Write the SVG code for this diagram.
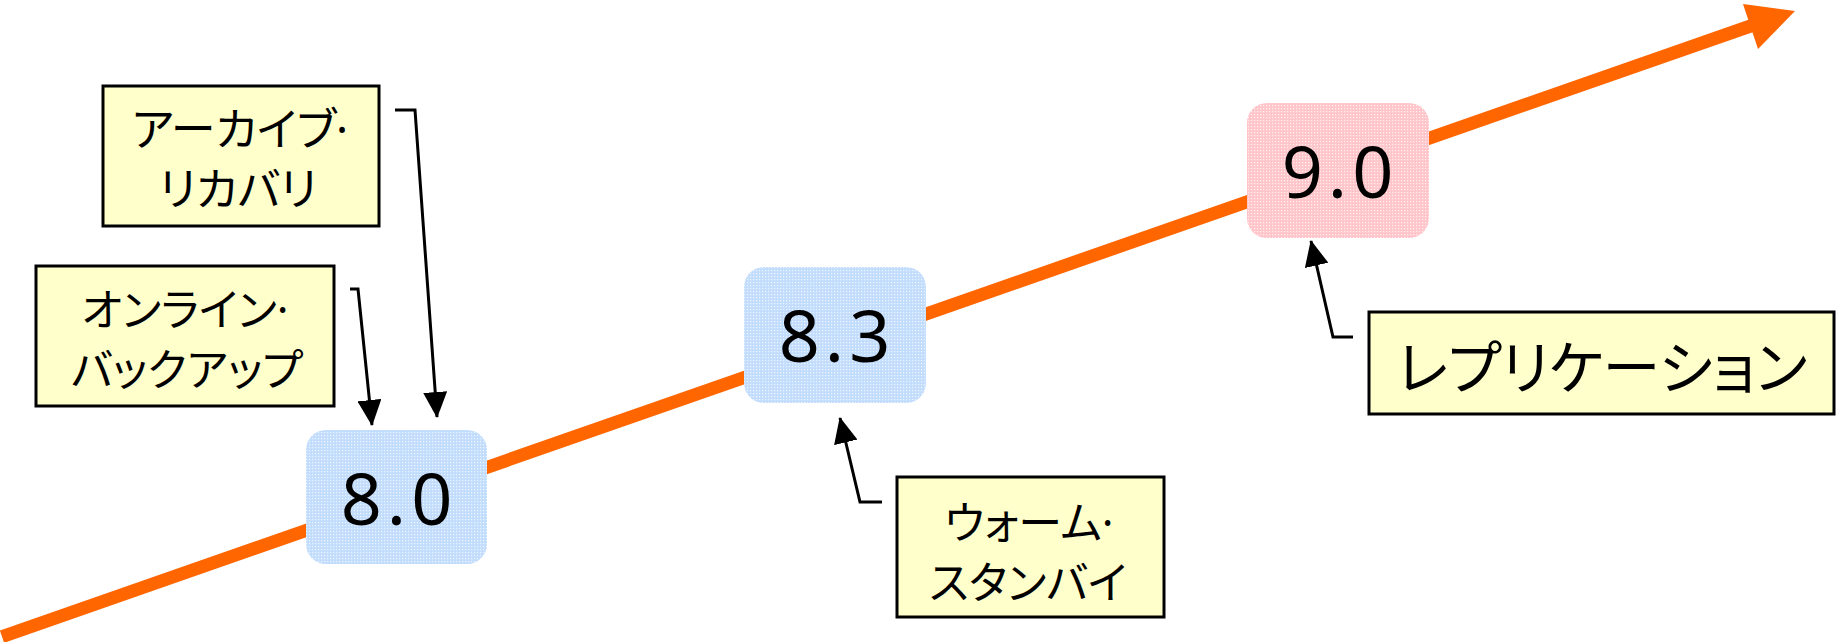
<svg xmlns="http://www.w3.org/2000/svg" width="1836" height="642" viewBox="0 0 1836 642">
  <style>
    .note { fill: #FFFFCC; stroke: #000; stroke-width: 3; }
    .jp { font-family: "Noto Sans CJK JP", "Noto Sans", sans-serif; font-feature-settings: "palt" 1; fill: #000; text-anchor: middle; }
    .dot { font-family: "Noto Sans", "DejaVu Sans", sans-serif; }
    .ver { font-family: "Noto Sans", "DejaVu Sans", sans-serif; font-size: 72px; letter-spacing: 5px; fill: #000; text-anchor: middle; }
    .conn { fill: none; stroke: #000; stroke-width: 3; }
  </style>
  <defs>
    <pattern id="blue" width="3" height="3" patternUnits="userSpaceOnUse">
      <rect width="3" height="3" fill="#C6DFFD"/>
      <rect width="1" height="1" fill="#EEF5FF"/>
      <rect x="2" y="2" width="1" height="1" fill="#B9D7FC"/>
    </pattern>
    <pattern id="pink" width="3" height="3" patternUnits="userSpaceOnUse">
      <rect width="3" height="3" fill="#FFC9CD"/>
      <rect width="1" height="1" fill="#FFF0F1"/>
      <rect x="2" y="2" width="1" height="1" fill="#FDBCC2"/>
    </pattern>
    <marker id="arr" viewBox="0 0 26 24" refX="25" refY="12" markerWidth="26" markerHeight="24" markerUnits="userSpaceOnUse" orient="auto">
      <path d="M0,0 L26,12 L0,24 z" fill="#000"/>
    </marker>
  </defs>

  <g id="timeline">
    <line x1="2" y1="636.7" x2="1752" y2="25.5" stroke="#FF6600" stroke-width="13"/>
    <polygon points="1795,11 1743,4 1758,49" fill="#FF6600"/>
  </g>

  <g id="v80">
    <rect x="306" y="430" width="181" height="134" rx="20" fill="url(#blue)"/>
    <text class="ver" x="399" y="525">8.0</text>
  </g>
  <g id="v83">
    <rect x="744" y="267" width="182" height="136" rx="20" fill="url(#blue)"/>
    <text class="ver" x="837" y="362">8.3</text>
  </g>
  <g id="v90">
    <rect x="1247" y="103" width="182" height="135" rx="20" fill="url(#pink)"/>
    <text class="ver" x="1340" y="198">9.0</text>
  </g>

  <g id="archive">
    <rect class="note" x="103" y="86" width="276" height="140"/>
    <text class="jp" x="240" y="146" font-size="45">アーカイブ<tspan class="dot">·</tspan></text>
    <text class="jp" x="238" y="206" font-size="45">リカバリ</text>
  </g>
  <g id="online">
    <rect class="note" x="36" y="266" width="298" height="140"/>
    <text class="jp" x="185" y="326" font-size="44">オンライン<tspan class="dot">·</tspan></text>
    <text class="jp" x="187" y="386" font-size="44">バックアップ</text>
  </g>
  <g id="warm">
    <rect class="note" x="897" y="477" width="267" height="140"/>
    <text class="jp" x="1029" y="539" font-size="44">ウォーム<tspan class="dot">·</tspan></text>
    <text class="jp" x="1028" y="599" font-size="44">スタンバイ</text>
  </g>
  <g id="replication">
    <rect class="note" x="1369" y="312" width="465" height="102"/>
    <text class="jp" x="1602" y="389" font-size="58">レプリケーション</text>
  </g>

  <g id="connectors">
    <polyline class="conn" points="395,110 415,110 437,417" marker-end="url(#arr)"/>
    <polyline class="conn" points="350,289 358,289 372,425" marker-end="url(#arr)"/>
    <polyline class="conn" points="882,502 860,502 840,418" marker-end="url(#arr)"/>
    <polyline class="conn" points="1353,337 1333,337 1311,241" marker-end="url(#arr)"/>
  </g>
</svg>
